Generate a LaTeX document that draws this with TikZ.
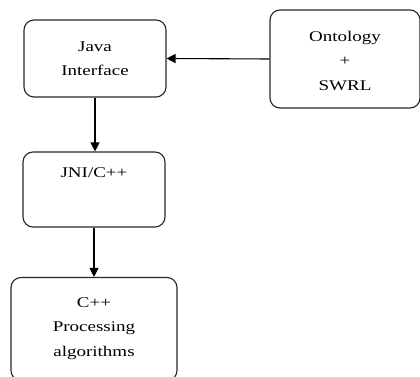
\documentclass[tikz,border=0pt]{standalone}
\usepackage{fontspec}
\setmainfont{Liberation Serif}
\usetikzlibrary{arrows.meta}
\newcommand{\sqtext}[1]{\scalebox{1}[0.78]{\fontsize{19}{31}\selectfont\begin{tabular}{@{}c@{}}#1\end{tabular}}}
\begin{document}
\begin{tikzpicture}[x=1pt,y=1pt,
  box/.style={draw=black!85, line width=1.1pt, rounded corners=10pt, inner sep=0pt},
  txt/.style={inner sep=0pt, text=black},
  conn/.style={draw=black, line width=1.1pt, -{Triangle[length=9pt,width=9pt]}}]
\useasboundingbox (0,0) rectangle (420,377);
\node[box, minimum width=142pt, minimum height=77pt] (java) at (95,318.5) {};
\node[box, minimum width=150pt, minimum height=98pt] (onto) at (345,318) {};
\node[box, minimum width=142pt, minimum height=75pt] (jni) at (94,187.5) {};
\node[box, minimum width=166pt, minimum height=103pt] (cpp) at (94,48) {};
\node[txt] (javat) at (95,318) {\sqtext{Java\\Interface}};
\node[txt] (ontot) at (345,316) {\sqtext{Ontology\\+\\SWRL}};
\node[txt] (jnit) at (94,204.5) {\sqtext{JNI/C++}};
\node[txt] (cppt) at (94,50) {\sqtext{C++\\Processing\\algorithms}};
\draw[conn] (onto.west) -- (java.east);
\draw[conn] (java.south) -- (java.south |- jni.north);
\draw[conn] (jni.south) -- (jni.south |- cpp.north);
\end{tikzpicture}
\end{document}
